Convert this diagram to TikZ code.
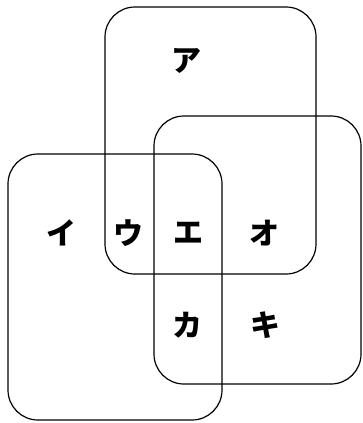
\documentclass[tikz,border=0pt]{standalone}
\usepackage{fontspec}
\newfontfamily\jp{Noto Sans CJK JP}
\begin{document}
\begin{tikzpicture}[x=1pt,y=-1pt,
  setbox/.style={draw=black,line width=1.2pt,rounded corners=30pt},
  lab/.style={font=\jp\bfseries\fontsize{30}{30}\selectfont,inner sep=0pt}]
\useasboundingbox (0,0) rectangle (363,423);
\draw[setbox] (105,7) rectangle (316,274);
\draw[setbox] (154,116) rectangle (361,384);
\draw[setbox] (8,154) rectangle (222,420);
\node[lab] (a) at (186,61) {ア};
\node[lab] (i) at (61,233) {イ};
\node[lab] (u) at (128,233) {ウ};
\node[lab] (e) at (188,233) {エ};
\node[lab] (o) at (264,233) {オ};
\node[lab] (ka) at (187,325) {カ};
\node[lab] (ki) at (265,325) {キ};
\end{tikzpicture}
\end{document}
